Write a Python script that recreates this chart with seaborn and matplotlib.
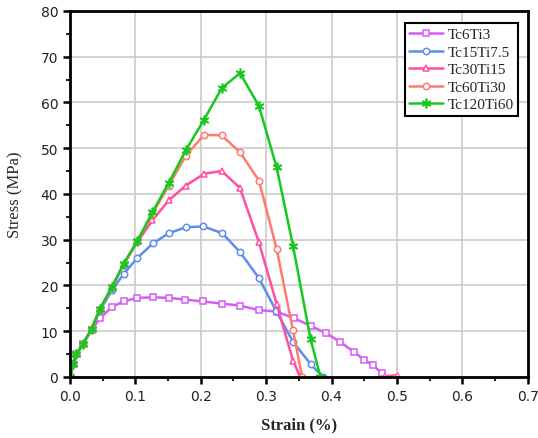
import matplotlib
matplotlib.use("Agg")
import matplotlib.pyplot as plt
import seaborn as sns
import pandas as pd
from matplotlib.ticker import MultipleLocator

sns.set_theme(style="white")
plt.rcParams['font.family'] = ['DejaVu Sans']

labels = ["Tc6Ti3", "Tc15Ti7.5", "Tc30Ti15", "Tc60Ti30", "Tc120Ti60"]
colors = ["#d65cf5", "#5b8ef0", "#ff4fa3", "#ff7b6e", "#17c81f"]
markers = ["s", "o", "^", "o", (6, 2, 0)]

strain_tc6 = [0.0, 0.005, 0.010, 0.020, 0.033, 0.046, 0.064, 0.082, 0.103, 0.127, 0.151,
              0.176, 0.204, 0.233, 0.260, 0.289, 0.316, 0.343, 0.368, 0.391, 0.413,
              0.434, 0.450, 0.463, 0.477]
stress_tc6 = [0.0, 2.8, 5.0, 7.2, 10.2, 12.8, 15.3, 16.5, 17.3, 17.4, 17.3,
              16.9, 16.5, 16.0, 15.6, 14.6, 14.3, 12.8, 11.2, 9.6, 7.7,
              5.5, 3.7, 2.6, 0.8]

strain_tc15 = [0.0, 0.005, 0.010, 0.020, 0.033, 0.046, 0.064, 0.082, 0.103, 0.127, 0.151,
               0.177, 0.204, 0.233, 0.260, 0.289, 0.315, 0.341, 0.368, 0.387]
stress_tc15 = [0.0, 2.8, 5.0, 7.2, 10.5, 14.6, 18.9, 22.5, 26.0, 29.2, 31.4,
               32.7, 32.9, 31.4, 27.3, 21.6, 14.5, 7.7, 2.8, 0.0]

strain_tc30 = [0.0, 0.005, 0.010, 0.020, 0.033, 0.046, 0.064, 0.082, 0.103, 0.126, 0.151,
               0.177, 0.205, 0.232, 0.260, 0.289, 0.316, 0.341, 0.352]
stress_tc30 = [0.0, 2.8, 5.0, 7.2, 10.5, 14.9, 19.5, 24.5, 29.5, 34.2, 38.6,
               41.8, 44.4, 45.0, 41.3, 29.4, 16.0, 3.6, 0.0]

strain_tc60 = [0.0, 0.005, 0.010, 0.020, 0.033, 0.046, 0.064, 0.082, 0.103, 0.126, 0.151,
               0.177, 0.205, 0.232, 0.260, 0.289, 0.316, 0.341, 0.355]
stress_tc60 = [0.0, 2.8, 5.0, 7.2, 10.5, 14.9, 19.6, 24.7, 29.7, 35.6, 41.8,
               48.3, 52.9, 52.8, 49.1, 42.9, 28.0, 10.2, 0.0]

strain_tc120 = [0.0, 0.005, 0.010, 0.020, 0.033, 0.046, 0.064, 0.082, 0.103, 0.126, 0.151,
                0.177, 0.205, 0.232, 0.260, 0.289, 0.316, 0.341, 0.368, 0.383]
stress_tc120 = [0.0, 2.8, 5.0, 7.2, 10.5, 14.9, 19.6, 24.7, 29.7, 36.0, 42.4,
                49.5, 56.2, 63.1, 66.4, 59.2, 45.8, 28.7, 8.2, 0.0]

# small detached tail near 0.5 %
strain_tail = [0.480, 0.500]
stress_tail = [0.2, 0.5]

strains = [strain_tc6, strain_tc15, strain_tc30, strain_tc60, strain_tc120]
stresses = [stress_tc6, stress_tc15, stress_tc30, stress_tc60, stress_tc120]

fig = plt.figure(figsize=(5.38, 4.39), dpi=100)
ax = fig.add_axes([0.130, 0.139, 0.851, 0.834])

for lab, col, mk, xs, ys in zip(labels, colors, markers, strains, stresses):
    df = pd.DataFrame({"Strain": xs, "Stress": ys})
    if isinstance(mk, tuple):
        kw = dict(marker=mk, markersize=7, markeredgecolor=col, markeredgewidth=1.2)
    else:
        kw = dict(marker=mk, markersize=4.6, markeredgecolor=col, markeredgewidth=1.1,
                  markerfacecolor="white")
    sns.lineplot(data=df, x="Strain", y="Stress", ax=ax, color=col, lw=1.8,
                 sort=False, estimator=None, label=lab, **kw)

df_tail = pd.DataFrame({"Strain": strain_tail, "Stress": stress_tail})
sns.lineplot(data=df_tail, x="Strain", y="Stress", ax=ax, color=colors[2], lw=1.2,
             sort=False, estimator=None, marker="^", markersize=4.6,
             markerfacecolor="white", markeredgecolor=colors[2], legend=False)

ax.set_xlim(0, 0.7)
ax.set_ylim(0, 80)
ax.xaxis.set_major_locator(MultipleLocator(0.1))
ax.xaxis.set_minor_locator(MultipleLocator(0.05))
ax.yaxis.set_major_locator(MultipleLocator(10))
ax.yaxis.set_minor_locator(MultipleLocator(5))
ax.xaxis.set_major_formatter(matplotlib.ticker.FormatStrFormatter('%.1f'))
ax.grid(True, which="major", color="#cccccc", lw=1.2)
ax.set_axisbelow(True)
for s in ax.spines.values():
    s.set_color("black")
    s.set_linewidth(2)
ax.tick_params(which="major", direction="out", length=5, width=1.8, labelsize=10,
               bottom=True, left=True, top=False, right=False, colors="black")
ax.tick_params(which="minor", direction="out", length=3, width=1.5,
               bottom=True, left=True, top=False, right=False)
for t in ax.get_xticklabels() + ax.get_yticklabels():
    t.set_color("#222222")

ax.set_xlabel("Strain (%)", fontfamily="Liberation Serif", fontweight="bold", fontsize=12, labelpad=10)
ax.set_ylabel("Stress (MPa)", fontfamily="Liberation Serif", fontsize=12, labelpad=12)

leg = ax.legend(loc="upper right", bbox_to_anchor=(0.986, 0.975), frameon=True, fancybox=False,
                edgecolor="black", framealpha=1, borderpad=0.3, labelspacing=0.25,
                handlelength=2.2, handletextpad=0.3, borderaxespad=0.2,
                prop={"family": "Liberation Serif", "size": 11})
leg.get_frame().set_linewidth(1.5)

fig.savefig("out.png", dpi=100)
